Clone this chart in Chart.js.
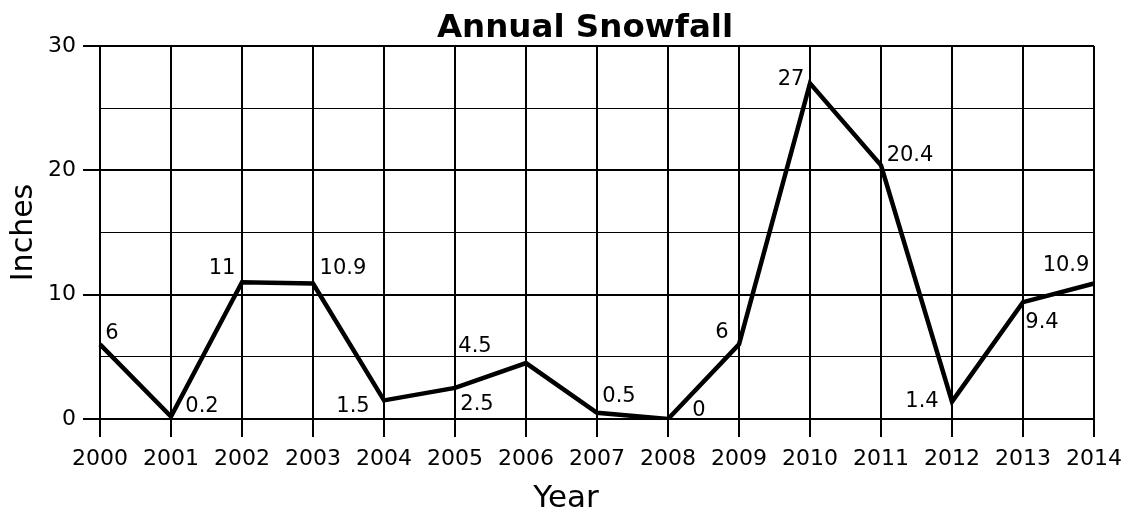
<!DOCTYPE html>
<html>
<head>
<meta charset="utf-8">
<script src="https://cdn.jsdelivr.net/npm/chart.js@4"></script>
<style>
  html, body { margin: 0; padding: 0; background: #fff; }
  #wrap { width: 1131px; height: 512px; }
</style>
</head>
<body>
<div id="wrap"><canvas id="snow" width="1131" height="512"></canvas></div>
<script>
    "use strict";

    const years = ["2000", "2001", "2002", "2003", "2004", "2005", "2006", "2007",
                   "2008", "2009", "2010", "2011", "2012", "2013", "2014"];
    const snowfall = [6, 0.2, 11, 10.9, 1.5, 2.5, 4.5, 0.5, 0, 6, 27, 20.4, 1.4, 9.4, 10.9];
    const yTicks = [0, 10, 20, 30];

    // where each value label sits relative to its point (dx, dy in px)
    const labelOffsets = [
        [12, -11], [31, -10], [-20, -14], [30, -15], [-31, 6], [22, 17], [-51, -17], [22, -16],
        [31, -8], [-17, -12], [-19, -4], [29, -10], [-30, 0], [19, 20], [-28, -18]
    ];

    const FONT = "'DejaVu Sans', Verdana, sans-serif";
    const INK = "#000";

    const valueLabels = {
        id: "valueLabels",
        afterDatasetsDraw(chart) {
            const ctx = chart.ctx;
            const meta = chart.getDatasetMeta(0);
            ctx.save();
            ctx.font = "21px " + FONT;
            ctx.fillStyle = INK;
            ctx.textAlign = "center";
            ctx.textBaseline = "middle";
            meta.data.forEach((pt, i) => {
                const off = labelOffsets[i];
                ctx.fillText(String(snowfall[i]), pt.x + off[0], pt.y + off[1]);
            });
            ctx.restore();
        }
    };

    // chart title and x-axis title are placed off-centre in the original, so draw them here
    const titles = {
        id: "titles",
        afterDraw(chart) {
            const ctx = chart.ctx;
            ctx.save();
            ctx.fillStyle = INK;
            ctx.textAlign = "center";
            ctx.textBaseline = "alphabetic";
            ctx.font = "bold 32.5px " + FONT;
            ctx.fillText("Annual Snowfall", 585, 37);
            ctx.font = "31px " + FONT;
            ctx.fillText("Year", 566, 507);
            ctx.restore();
        }
    };

    const isMajor = (ctx) => ctx.tick && yTicks.includes(ctx.tick.value);

    new Chart(document.getElementById("snow").getContext("2d"), {
        type: "line",
        data: {
            labels: years,
            datasets: [{
                data: snowfall,
                borderColor: INK,
                borderWidth: 4.5,
                pointRadius: 0,
                tension: 0,
                fill: false
            }]
        },
        options: {
            responsive: false,
            animation: false,
            layout: { padding: { left: 0, right: 36, top: 46, bottom: 0 } },
            plugins: {
                legend: { display: false },
                tooltip: { enabled: false },
                title: { display: false }
            },
            scales: {
                x: {
                    offset: false,
                    afterFit(scale) { scale.height = 93; },
                    grid: {
                        color: INK,
                        lineWidth: 2,
                        tickLength: 18,
                        tickColor: INK,
                        tickWidth: 2
                    },
                    border: { display: false },
                    ticks: {
                        color: INK,
                        font: { family: FONT, size: 22 },
                        padding: 9,
                        maxRotation: 0,
                        autoSkip: false
                    },
                    title: { display: false }
                },
                y: {
                    min: 0,
                    max: 30,
                    afterFit(scale) { scale.width = 100; },
                    grid: {
                        color: INK,
                        lineWidth: (ctx) => isMajor(ctx) ? 2 : 1,
                        tickLength: 17,
                        tickColor: (ctx) => isMajor(ctx) ? INK : "rgba(0,0,0,0)",
                        tickWidth: 2
                    },
                    border: { display: false },
                    ticks: {
                        stepSize: 5,
                        color: INK,
                        font: { family: FONT, size: 22 },
                        padding: 7,
                        callback: (v) => yTicks.includes(v) ? String(v) : ""
                    },
                    title: {
                        display: true,
                        text: "Inches",
                        color: INK,
                        font: { family: FONT, size: 30, lineHeight: 1.2 },
                        padding: { top: 6, bottom: 0 }
                    }
                }
            }
        },
        plugins: [valueLabels, titles]
    });
</script>
</body>
</html>
